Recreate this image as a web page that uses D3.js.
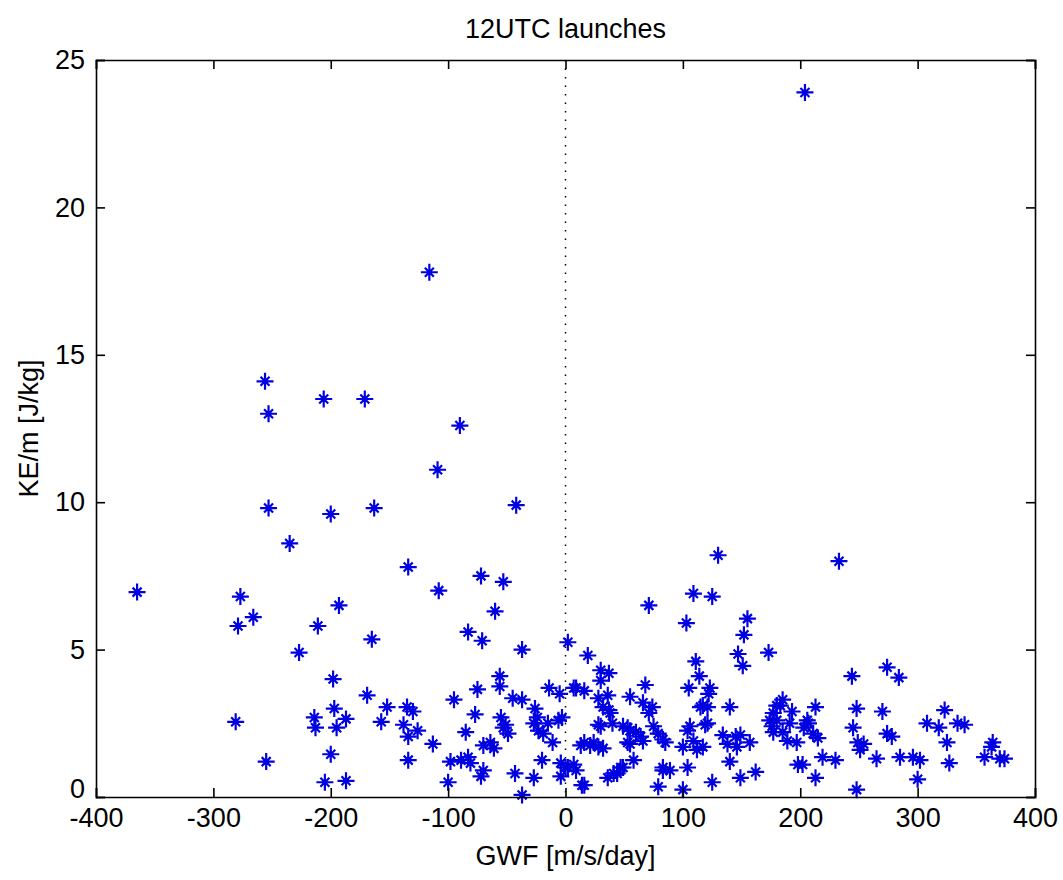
<!DOCTYPE html>
<html>
<head>
<meta charset="utf-8">
<script src="https://cdn.jsdelivr.net/npm/d3@7"></script>
<style>
  html, body { margin: 0; padding: 0; background: #ffffff; }
  svg text { font-family: "Liberation Sans", Arial, sans-serif; fill: #000; }
</style>
</head>
<body>
<svg id="chart" width="1063" height="880"></svg>
<script>
const title = "12UTC launches";
const xLabel = "GWF [m/s/day]";
const yLabel = "KE/m [J/kg]";
const xTicks = [-400, -300, -200, -100, 0, 100, 200, 300, 400];
const yTicks = [0, 5, 10, 15, 20, 25];

// GWF [m/s/day]
const gwf = [
  204, -116, -256, -253, -206, -171, -90, -109, -253, -200, -163, -42, -235, -134, 130, 233,
  -365, -277, -266, -279, -211, -227, -198, -193, -197, -214, -213, -195, -281, -200, -255, -205,
  -72, -53, -108, -60, -165, -83, -71, -37, 2, -56, -56, -75, -14, -5, 7, -169,
  -152, -135, -130, -45, -37, -95, -187, -157, -138, -126, -134, -77, -55, -51, -49, -26,
  -27, -23, -15, -11, -6, -85, -113, -134, -98, -89, -83, -81, -70, -64, -61, -70,
  -72, -43, -27, -20, -4, 2, -4, -37, -100, -187, -24, -19, -53,
  71, 109, 125, 103, 155, 152, 147, 151, 173, 19, 30, 37, 111, 114, 105, 68,
  123, 9, 16, 55, 36, 32, 66, 74, 71, 122, 121, 115, 140, 38, 40, 30,
  49, 55, 75, 79, 85, 16, 21, 13, 28, 55, 66, 104, 109, 100, 117, 121,
  134, 145, 157, 138, 146, 7, 9, 47, 58, 41, 36, 16, 83, 89, 104, 79,
  100, 125, 149, 162, 177, 185, 180, 191, 176, 189, 197, 207, 213, 198, 213, 211,
  244, 274, 284, 206, 203, 215, 219, 230, 202, 248, 245, 249, 254, 251, 265, 270,
  274, 278, 248, 285, 296, 302, 300, 308, 318, 323, 325, 327, 334, 340, 364, 363,
  357, 370, 374,
  30, 28, 37, 28, 53, 60, 83, 64, 53, 24, 32, 49, 44, 0, 14, 83, -3,
  106, 119, 149, 140, 112, 117, 177, 183, 174, 180, 193, 185
];

// KE/m [J/kg]
const ke = [
  23.9, 17.8, 14.1, 13.0, 13.5, 13.5, 12.6, 11.1, 9.8, 9.6, 9.8, 9.9, 8.6, 7.8, 8.2, 8.0,
  6.95, 6.8, 6.1, 5.8, 5.8, 4.9, 4.0, 6.5, 3.0, 2.7, 2.35, 2.35, 2.55, 1.45, 1.2, 0.5,
  7.5, 7.3, 7.0, 6.3, 5.35, 5.6, 5.3, 5.0, 5.25, 4.1, 3.75, 3.65, 3.7, 3.5, 3.7, 3.45,
  3.05, 3.05, 2.9, 3.35, 3.3, 3.3, 2.65, 2.55, 2.45, 2.25, 2.05, 2.8, 2.7, 2.45, 2.15, 3.0,
  2.5, 2.25, 2.5, 1.85, 2.6, 2.2, 1.8, 1.25, 1.2, 1.25, 1.35, 1.15, 1.75, 1.85, 1.65, 0.9,
  0.7, 0.8, 0.65, 1.25, 1.15, 1.0, 0.7, 0.07, 0.5, 0.55, 2.7, 2.15, 2.35,
  6.5, 6.9, 6.8, 5.9, 6.05, 5.5, 4.85, 4.45, 4.9, 4.8, 4.3, 4.2, 4.6, 4.1, 3.7, 3.8,
  3.7, 3.7, 3.6, 3.4, 3.45, 3.05, 3.2, 3.05, 2.85, 3.5, 3.05, 3.05, 3.05, 2.85, 2.5, 2.4,
  2.4, 2.25, 2.4, 2.15, 1.85, 1.85, 1.75, 1.75, 1.7, 1.8, 1.9, 2.25, 1.9, 1.7, 1.7, 2.5,
  2.1, 2.05, 1.85, 1.8, 1.7, 1.1, 0.9, 1.0, 1.25, 0.8, 0.65, 0.4, 0.9, 0.9, 1.0, 0.35,
  0.25, 0.5, 0.65, 0.85, 2.85, 3.3, 2.6, 2.5, 2.4, 1.9, 1.85, 2.5, 3.05, 1.1, 0.65, 2.15,
  4.1, 4.4, 4.05, 2.6, 2.35, 2.0, 1.35, 1.25, 1.1, 3.0, 2.35, 1.85, 1.8, 1.6, 1.3, 2.9,
  2.15, 2.05, 0.25, 1.35, 1.35, 1.25, 0.6, 2.5, 2.35, 2.95, 1.85, 1.15, 2.5, 2.45, 1.85, 1.7,
  1.35, 1.3, 1.3,
  3.95, 3.35, 2.95, 2.45, 2.35, 2.2, 1.95, 2.05, 1.85, 1.85, 1.65, 1.0, 0.8, 1.0, 0.4, 1.0, 2.7,
  2.4, 2.45, 2.1, 1.2, 1.6, 3.1, 2.2, 3.1, 2.6, 3.1, 2.9, 2.2
];

const svg = d3.select("#chart");
const margin = { left: 96, right: 28, top: 60, bottom: 83 };
const W = 1063, H = 880;

const x = d3.scaleLinear().domain([-400, 400]).range([margin.left, W - margin.right]);
const y = d3.scaleLinear().domain([0, 25]).range([H - margin.bottom, margin.top]);

const x0 = x.range()[0], x1 = x.range()[1];
const y0 = y.range()[0], y1 = y.range()[1];

svg.append("rect").attr("width", W).attr("height", H).attr("fill", "#fff");

// zero dotted line
svg.append("line")
  .attr("x1", x(0)).attr("x2", x(0)).attr("y1", y1).attr("y2", y0)
  .attr("stroke", "#000").attr("stroke-width", 1.5)
  .attr("stroke-dasharray", "1.5,7");

// points (asterisk markers)
const pts = gwf.map((g, i) => ({ g, k: ke[i] }));
const mk = svg.append("g").attr("class", "points");
const R = 8.5, D = 4.5;
const starPath = `M${-R},0L${R},0M0,${-R}L0,${R}M${-D},${-D}L${D},${D}M${-D},${D}L${D},${-D}`;
mk.selectAll("path").data(pts).join("path")
  .attr("transform", d => `translate(${x(d.g)},${y(d.k)})`)
  .attr("d", starPath)
  .attr("fill", "none")
  .attr("stroke", "#0000e0")
  .attr("stroke-width", 2.2);

// axes with inward ticks on all sides
const tickLen = 9;
const fs = 27;
const fmt = d => String(d);
const axBottom = svg.append("g").attr("transform", `translate(0,${y0})`)
  .call(d3.axisBottom(x).tickValues(xTicks).tickSize(-tickLen).tickPadding(6).tickFormat(fmt));
const axTop = svg.append("g").attr("transform", `translate(0,${y1})`)
  .call(d3.axisTop(x).tickValues(xTicks).tickSize(-tickLen).tickFormat(""));
const axLeft = svg.append("g").attr("transform", `translate(${x0},0)`)
  .call(d3.axisLeft(y).tickValues(yTicks).tickSize(-tickLen).tickPadding(11).tickFormat(fmt));
const axRight = svg.append("g").attr("transform", `translate(${x1},0)`)
  .call(d3.axisRight(y).tickValues(yTicks).tickSize(-tickLen).tickFormat(""));

[axBottom, axTop, axLeft, axRight].forEach(g => {
  g.select(".domain").attr("stroke", "#000").attr("stroke-width", 1.6);
  g.selectAll(".tick line").attr("stroke", "#000").attr("stroke-width", 1.6);
  g.selectAll(".tick text").attr("font-size", fs)
    .attr("font-family", '"Liberation Sans", Arial, sans-serif')
    .attr("fill", "#000");
});
axBottom.selectAll(".tick text").attr("dy", "0.89em");
// lift the y "0" label slightly so it does not collide with "-400"
axLeft.selectAll(".tick text").filter(d => d === 0).attr("dy", "0em");

// title and labels
svg.append("text").attr("x", x(0)).attr("y", 38)
  .attr("text-anchor", "middle").attr("font-size", fs).text(title);
svg.append("text").attr("x", x(0)).attr("y", 865)
  .attr("text-anchor", "middle").attr("font-size", fs).text(xLabel);
svg.append("text")
  .attr("transform", `translate(38,${(y0 + y1) / 2}) rotate(-90)`)
  .attr("text-anchor", "middle").attr("font-size", fs).text(yLabel);
</script>
</body>
</html>
